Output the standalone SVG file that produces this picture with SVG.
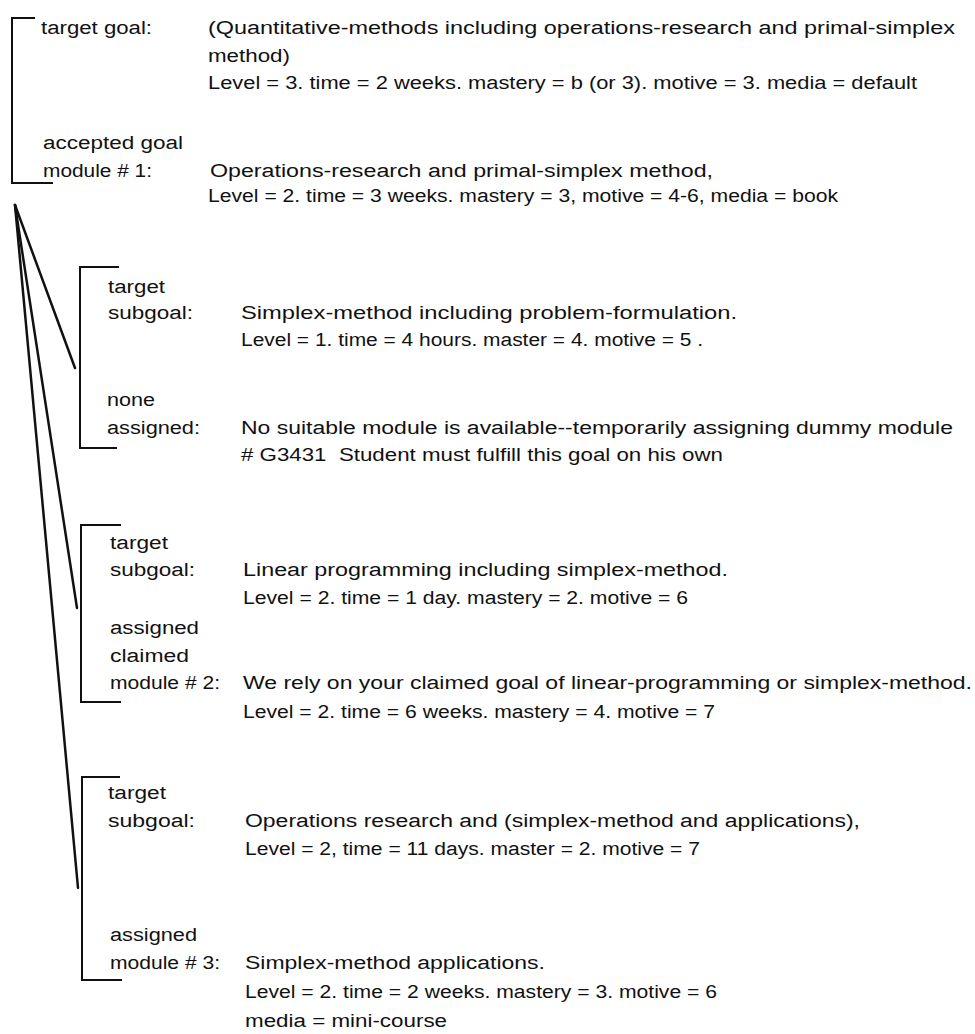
<svg xmlns="http://www.w3.org/2000/svg" width="975" height="1034" viewBox="0 0 975 1034">
<style>
text{font-family:"Liberation Sans",Arial,sans-serif;font-size:18px;fill:#111}
.br{fill:none;stroke:#111;stroke-width:2}
.cn{fill:none;stroke:#111;stroke-width:2.5;stroke-linecap:round}
</style>
<rect width="975" height="1034" fill="#fff"/>
<g id="goal">
<path class="br" d="M35,18 H12 V183 H53"/>
<text x="41" y="34" textLength="111" lengthAdjust="spacingAndGlyphs">target goal:</text>
<text x="208" y="34" textLength="747" lengthAdjust="spacingAndGlyphs">(Quantitative-methods including operations-research and primal-simplex</text>
<text x="208" y="62" textLength="82" lengthAdjust="spacingAndGlyphs">method)</text>
<text x="208" y="89" textLength="709" lengthAdjust="spacingAndGlyphs">Level = 3. time = 2 weeks. mastery = b (or 3). motive = 3. media = default</text>
<text x="43" y="149" textLength="140" lengthAdjust="spacingAndGlyphs">accepted goal</text>
<text x="43" y="177" textLength="109" lengthAdjust="spacingAndGlyphs">module # 1:</text>
<text x="210" y="177" textLength="503" lengthAdjust="spacingAndGlyphs">Operations-research and primal-simplex method,</text>
<text x="208" y="202" textLength="630" lengthAdjust="spacingAndGlyphs">Level = 2. time = 3 weeks. mastery = 3, motive = 4-6, media = book</text>
</g>
<g id="subgoal1">
<path class="br" d="M119,267 H80 V448 H117"/>
<text x="108" y="293" textLength="57" lengthAdjust="spacingAndGlyphs">target</text>
<text x="108" y="319" textLength="85" lengthAdjust="spacingAndGlyphs">subgoal:</text>
<text x="241" y="319" textLength="496" lengthAdjust="spacingAndGlyphs">Simplex-method including problem-formulation.</text>
<text x="241" y="346" textLength="462" lengthAdjust="spacingAndGlyphs">Level = 1. time = 4 hours. master = 4. motive = 5 .</text>
<text x="107" y="406" textLength="48" lengthAdjust="spacingAndGlyphs">none</text>
<text x="107" y="434" textLength="93" lengthAdjust="spacingAndGlyphs">assigned:</text>
<text x="241" y="434" textLength="712" lengthAdjust="spacingAndGlyphs">No suitable module is available--temporarily assigning dummy module</text>
<text x="241" y="461" textLength="482" lengthAdjust="spacingAndGlyphs"># G3431&#160; Student must fulfill this goal on his own</text>
</g>
<g id="subgoal2">
<path class="br" d="M121,525 H81 V702 H121"/>
<text x="110" y="549" textLength="58" lengthAdjust="spacingAndGlyphs">target</text>
<text x="110" y="576" textLength="85" lengthAdjust="spacingAndGlyphs">subgoal:</text>
<text x="243" y="576" textLength="485" lengthAdjust="spacingAndGlyphs">Linear programming including simplex-method.</text>
<text x="243" y="604" textLength="445" lengthAdjust="spacingAndGlyphs">Level = 2. time = 1 day. mastery = 2. motive = 6</text>
<text x="110" y="634" textLength="89" lengthAdjust="spacingAndGlyphs">assigned</text>
<text x="110" y="662" textLength="79" lengthAdjust="spacingAndGlyphs">claimed</text>
<text x="110" y="689" textLength="110" lengthAdjust="spacingAndGlyphs">module # 2:</text>
<text x="243" y="689" textLength="729" lengthAdjust="spacingAndGlyphs">We rely on your claimed goal of linear-programming or simplex-method.</text>
<text x="243" y="718" textLength="472" lengthAdjust="spacingAndGlyphs">Level = 2. time = 6 weeks. mastery = 4. motive = 7</text>
</g>
<g id="subgoal3">
<path class="br" d="M120,777 H82 V980 H122"/>
<text x="108" y="799" textLength="58" lengthAdjust="spacingAndGlyphs">target</text>
<text x="108" y="827" textLength="87" lengthAdjust="spacingAndGlyphs">subgoal:</text>
<text x="245" y="827" textLength="615" lengthAdjust="spacingAndGlyphs">Operations research and (simplex-method and applications),</text>
<text x="245" y="855" textLength="455" lengthAdjust="spacingAndGlyphs">Level = 2, time = 11 days. master = 2. motive = 7</text>
<text x="110" y="941" textLength="87" lengthAdjust="spacingAndGlyphs">assigned</text>
<text x="110" y="969" textLength="110" lengthAdjust="spacingAndGlyphs">module # 3:</text>
<text x="245" y="969" textLength="300" lengthAdjust="spacingAndGlyphs">Simplex-method applications.</text>
<text x="245" y="998" textLength="472" lengthAdjust="spacingAndGlyphs">Level = 2. time = 2 weeks. mastery = 3. motive = 6</text>
<text x="245" y="1027" textLength="202" lengthAdjust="spacingAndGlyphs">media = mini-course</text>
</g>
<g id="connectors">
<line class="cn" x1="15" y1="205" x2="75" y2="368"/>
<line class="cn" x1="15" y1="205" x2="77" y2="608"/>
<line class="cn" x1="15" y1="205" x2="78" y2="888"/>
</g>
</svg>
